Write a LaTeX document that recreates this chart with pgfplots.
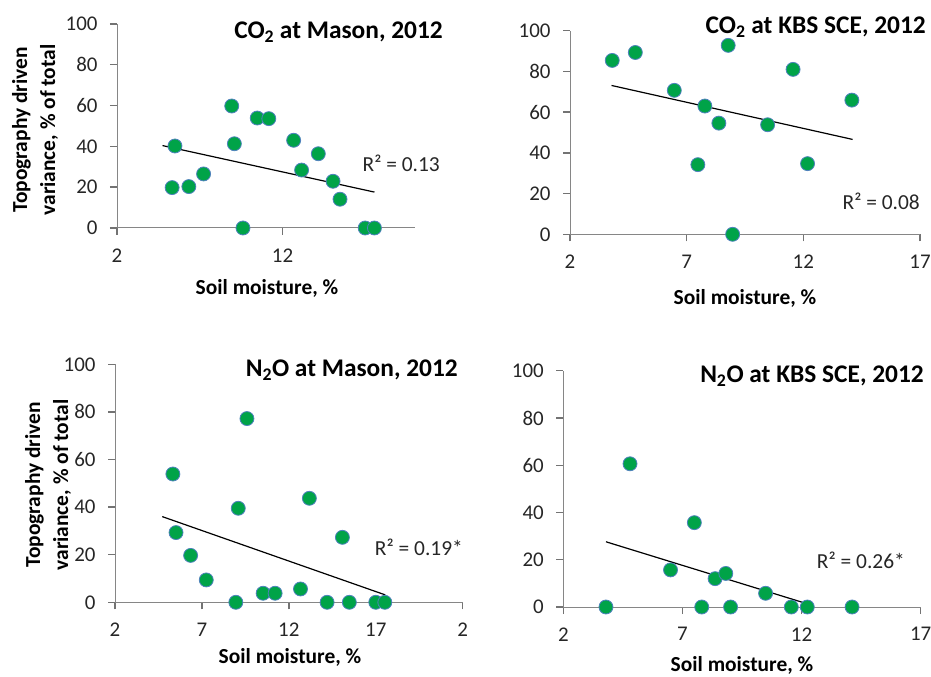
\documentclass[border=0pt]{standalone}
\usepackage{pgfplots}
\pgfplotsset{compat=1.18}
\usepackage{fontspec}
\setmainfont{Carlito}
\definecolor{mkgreen}{RGB}{0,163,72}
\definecolor{mkblue}{RGB}{79,129,189}
\definecolor{axgray}{RGB}{134,134,134}
\definecolor{tkgray}{RGB}{115,115,115}
\pgfplotsset{
  panel/.style={
    scale only axis, anchor=south west,
    axis lines*=left,
    axis line style={draw=axgray, line width=1bp},
    xtick style={draw=tkgray, line width=1.4bp},
    ytick style={draw=tkgray, line width=1.4bp},
    xtick align=outside, ytick align=outside,
    tickwidth=7bp,
    ymin=0, ymax=100, ytick={0,20,40,60,80,100},
    clip=false,
    /pgf/number format/assume math mode=true,
    xticklabel style={font=\fontsize{21}{23}\selectfont, text=black!85, yshift=-10bp},
    yticklabel style={font=\fontsize{21}{23}\selectfont, text=black!85, xshift=-9bp},
  },
  pts/.style={only marks, mark=*, mark size=7bp,
    mark options={fill=mkgreen, draw=mkblue, line width=0.8bp}},
  trend/.style={black, line width=1.2bp, no marks},
}
\begin{document}
\begin{tikzpicture}
\useasboundingbox (0bp,0bp) rectangle (931bp,677bp);
% Panel 1: CO2 at Mason
\begin{axis}[panel, at={(117bp,449bp)}, width=298bp, height=204bp,
  xmin=2, xmax=20, xtick={2,12}]
\addplot[trend] coordinates {(4.75,40.4) (17.55,17.6)};
\addplot[pts] coordinates {
(5.50,40.2) (5.33,19.8) (6.34,20.3) (7.23,26.5) (8.93,59.8) (9.09,41.3)
(9.61,0) (10.47,53.9) (11.17,53.6) (12.67,43.0) (13.15,28.4) (14.16,36.4)
(15.05,22.9) (15.47,14.1) (16.99,0) (17.55,0)};
\end{axis}
% Panel 2: CO2 at KBS SCE
\begin{axis}[panel, at={(570bp,442.7bp)}, width=350bp, height=203.6bp,
  xmin=2, xmax=17, xtick={2,7,12,17}]
\addplot[trend] coordinates {(3.78,73.1) (14.11,46.6)};
\addplot[pts] coordinates {
(3.81,85.4) (4.80,89.3) (8.78,92.8) (11.56,81.0) (6.47,70.7) (7.78,63.0)
(8.38,54.6) (10.47,53.8) (14.08,65.9) (7.48,34.2) (12.18,34.7) (8.97,0)};
\end{axis}
% Panel 3: N2O at Mason
\begin{axis}[panel, at={(115bp,74.7bp)}, width=347.7bp, height=238bp,
  xmin=2, xmax=22, xtick={2,7,12,17,22}, xticklabels={2,7,12,17,2}]
\addplot[trend] coordinates {(4.72,36.0) (17.55,3.1)};
\addplot[pts] coordinates {
(5.33,53.9) (5.51,29.3) (6.35,19.7) (7.25,9.4) (9.59,77.2) (9.09,39.5)
(8.95,0) (10.52,3.8) (11.21,3.8) (12.67,5.6) (13.18,43.7) (14.20,0)
(15.08,27.3) (15.48,0) (17.0,0) (17.52,0)};
\end{axis}
% Panel 4: N2O at KBS SCE
\begin{axis}[panel, at={(563.3bp,70bp)}, width=357.4bp, height=236.3bp,
  xmin=2, xmax=17, xtick={2,7,12,17}]
\addplot[trend] coordinates {(3.79,27.6) (12.48,0.6)};
\addplot[pts] coordinates {
(3.79,0) (4.80,60.6) (7.50,35.7) (6.50,15.7) (8.37,12.0) (8.82,14.2)
(10.49,5.8) (7.81,0) (9.02,0) (11.57,0) (12.24,0) (14.12,0)};
\end{axis}
% Titles
\begin{scope}[every node/.style={font=\bfseries\fontsize{25.5}{28}\selectfont, anchor=east, inner sep=0pt}]
\node at (443bp,645bp) {CO\textsubscript{2} at Mason, 2012};
\node at (926bp,650bp) {CO\textsubscript{2} at KBS SCE, 2012};
\node at (458bp,307bp) {N\textsubscript{2}O at Mason, 2012};
\node at (924bp,301bp) {N\textsubscript{2}O at KBS SCE, 2012};
\end{scope}
% R^2
\begin{scope}[every node/.style={font=\fontsize{21.5}{23}\selectfont, anchor=east, inner sep=0pt, text=black!85}]
\node at (440bp,514bp) {R² = 0.13};
\node at (920bp,476bp) {R² = 0.08};
\node at (463bp,130bp) {R² = 0.19*};
\node at (905bp,117bp) {R² = 0.26*};
\end{scope}
% Axis labels
\begin{scope}[every node/.style={font=\bfseries\fontsize{21.5}{28}\selectfont, inner sep=0pt}]
\node at (267bp,389bp) {Soil moisture, \%};
\node at (745bp,379bp) {Soil moisture, \%};
\node at (290bp,20bp) {Soil moisture, \%};
\node at (742bp,12bp) {Soil moisture, \%};
\node[rotate=90, align=center] at (35bp,547bp) {Topography driven\\variance, \% of total};
\node[rotate=90, align=center] at (48bp,192bp) {Topography driven\\variance, \% of total};
\end{scope}
\end{tikzpicture}
\end{document}
